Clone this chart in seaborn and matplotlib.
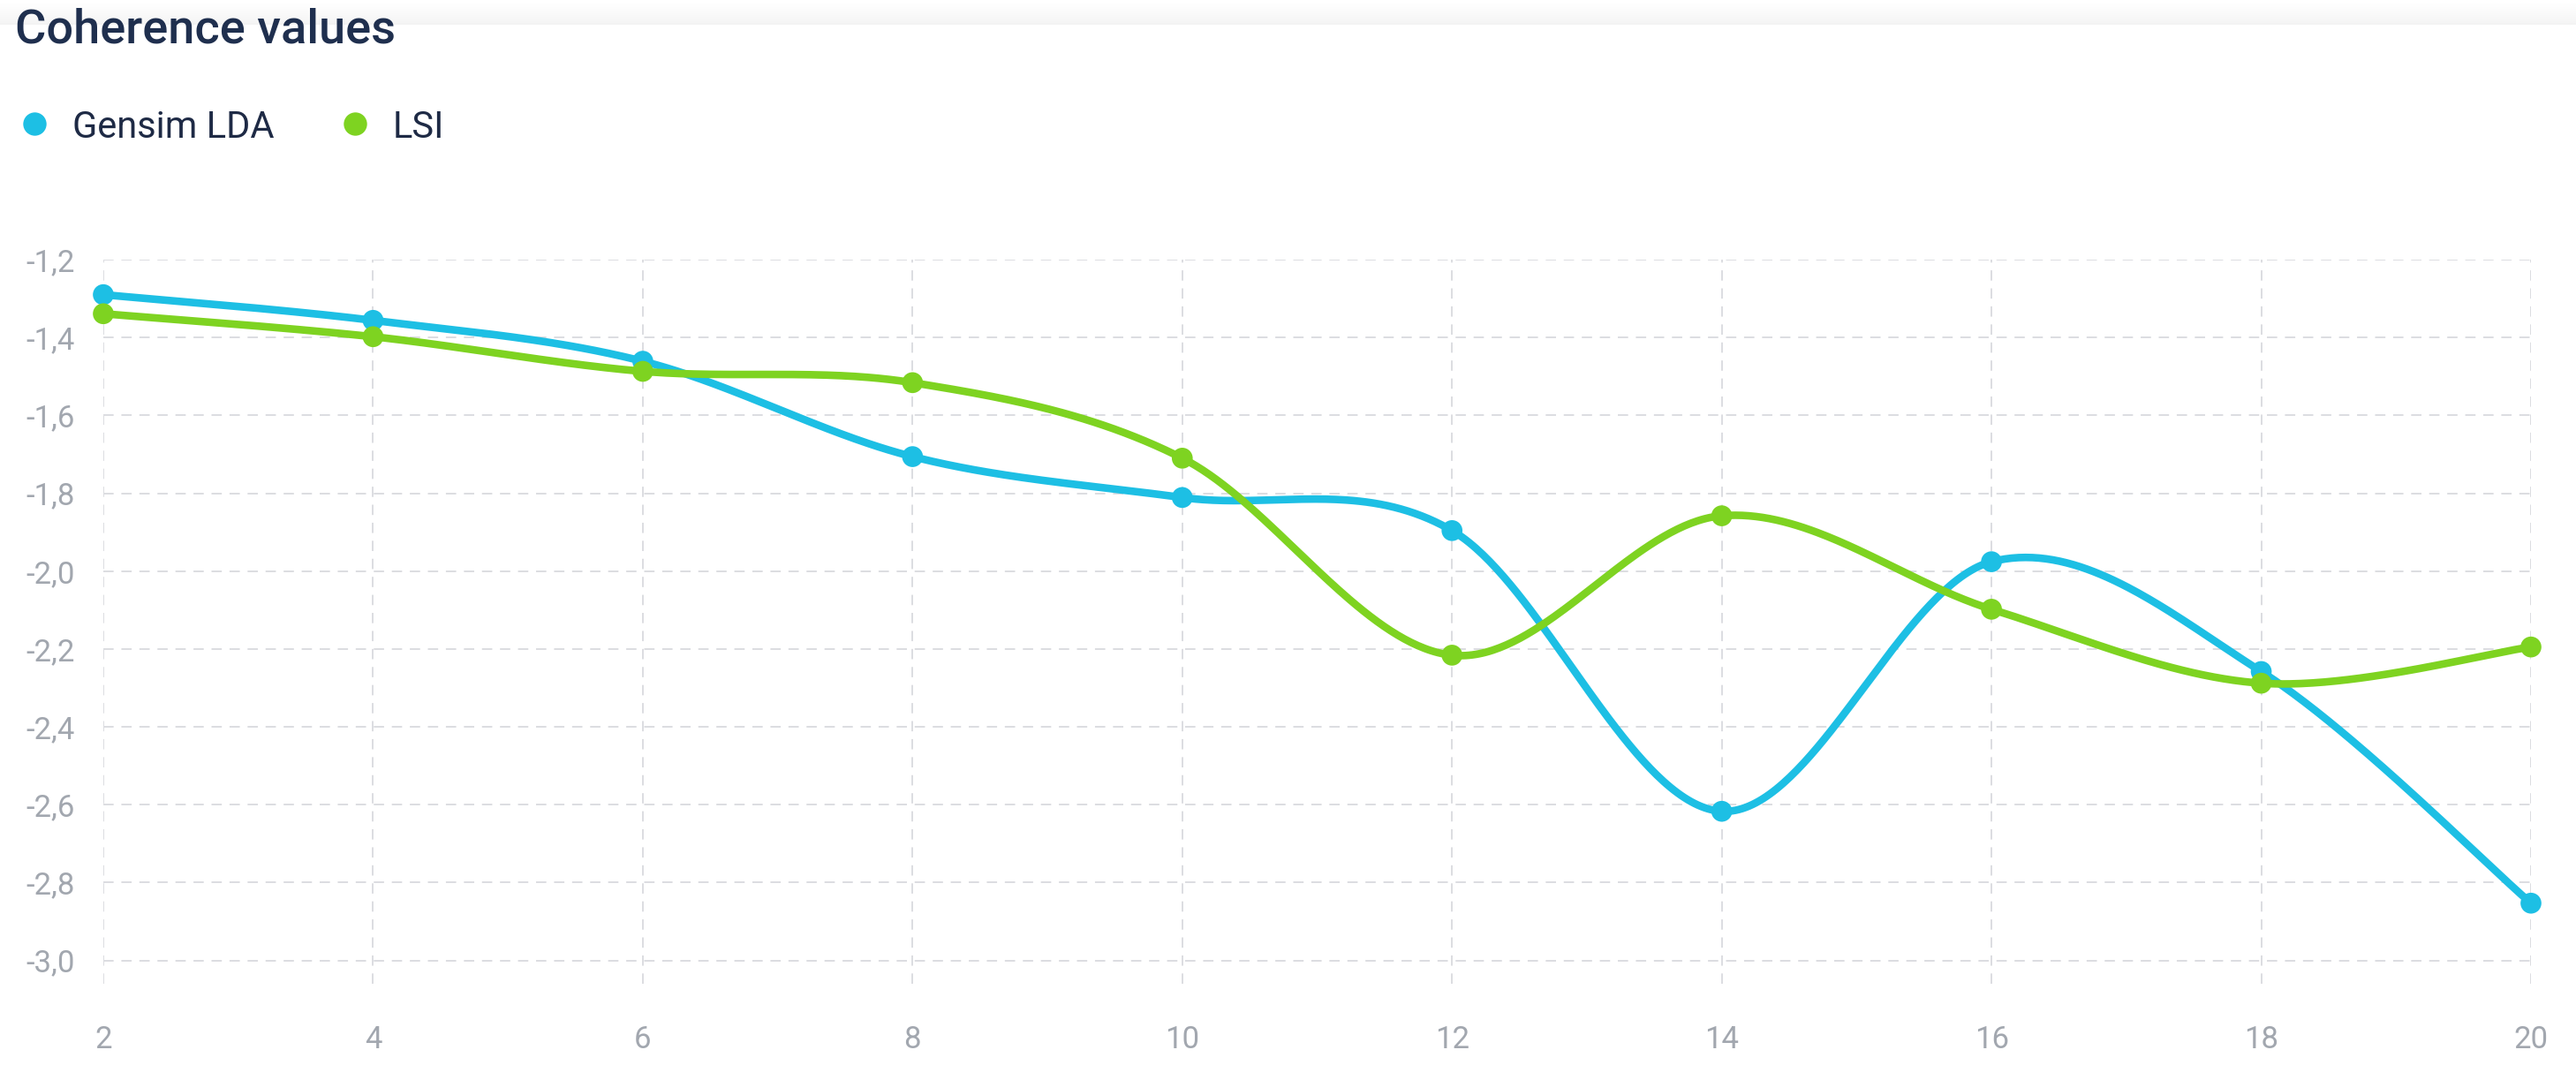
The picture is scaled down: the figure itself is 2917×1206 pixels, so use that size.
import numpy as np
import pandas as pd
import matplotlib
matplotlib.use("Agg")
import matplotlib.pyplot as plt
import seaborn as sns
from matplotlib.lines import Line2D

# ---------------- data ----------------
topics = [2, 4, 6, 8, 10, 12, 14, 16, 18, 20]
lda_values = [-1.29, -1.356, -1.461, -1.706, -1.811, -1.896, -2.617, -1.976, -2.258, -2.853]
lsi_values = [-1.339, -1.398, -1.487, -1.516, -1.710, -2.216, -1.858, -2.098, -2.288, -2.195]
series_names = ["Gensim LDA", "LSI"]
series_colors = ["#1dbfe4", "#7ed321"]
y_ticks = [-1.2, -1.4, -1.6, -1.8, -2.0, -2.2, -2.4, -2.6, -2.8, -3.0]
x_ticks = topics
title_text = "Coherence values"


def smooth_curve(x, y, n=80):
    """Catmull-Rom style cubic bezier through the data points (for drawing)."""
    x = np.asarray(x, float)
    y = np.asarray(y, float)
    px = np.concatenate([[x[0]], x, [x[-1]]])
    py = np.concatenate([[y[0]], y, [y[-1]]])
    t = np.linspace(0, 1, n)
    xs, ys = [], []
    for i in range(len(x) - 1):
        x0, x1, x2, x3 = px[i], px[i + 1], px[i + 2], px[i + 3]
        y0, y1, y2, y3 = py[i], py[i + 1], py[i + 2], py[i + 3]
        cx1, cy1 = x1 + (x2 - x0) / 6, y1 + (y2 - y0) / 6
        cx2, cy2 = x2 - (x3 - x1) / 6, y2 - (y3 - y1) / 6
        b0 = (1 - t) ** 3
        b1 = 3 * (1 - t) ** 2 * t
        b2 = 3 * (1 - t) * t ** 2
        b3 = t ** 3
        xs.append(b0 * x1 + b1 * cx1 + b2 * cx2 + b3 * x2)
        ys.append(b0 * y1 + b1 * cy1 + b2 * cy2 + b3 * y2)
    return np.concatenate(xs), np.concatenate(ys)


sns.set_theme(style="white")
plt.rcParams["font.family"] = ["Roboto", "DejaVu Sans"]

W, H = 2917, 1206
fig = plt.figure(figsize=(W / 100, H / 100), dpi=100)
fig.patch.set_facecolor("white")

# faint shadow band at the very top
grad = np.linspace(0.955, 1.0, 28)[::-1][:, None] * np.ones((1, W))
fig.figimage(grad, xo=0, yo=H - 28, cmap="gray", vmin=0, vmax=1, zorder=0)

ax_left, ax_right = 117 / W, 2866 / W
ax_top, ax_bottom = 1 - 294 / H, 1 - 1114 / H
ax = fig.add_axes([ax_left, ax_bottom, ax_right - ax_left, ax_top - ax_bottom])
ax.set_facecolor("none")

for vals, name, col in zip([lda_values, lsi_values], series_names, series_colors):
    sx, sy = smooth_curve(topics, vals)
    df = pd.DataFrame({"topics": sx, "value": sy})
    sns.lineplot(data=df, x="topics", y="value", sort=False, color=col, lw=6.2,
                 ax=ax, zorder=3, estimator=None)
    sns.scatterplot(x=topics, y=vals, color=col, s=290, edgecolor="none",
                    ax=ax, zorder=4, clip_on=False)

ax.set_xlim(2, 20)
ax.set_ylim(-3.06, -1.2)
ax.set_xticks(x_ticks)
ax.set_xticklabels([str(v) for v in x_ticks])
ax.set_yticks(y_ticks)
ax.set_yticklabels([f"{v:.1f}".replace(".", ",") for v in y_ticks])
ax.set_xlabel("")
ax.set_ylabel("")
ax.grid(True, linestyle=(0, (6, 4.5)), color="#dcdde1", lw=1.4, zorder=0)
for s in ax.spines.values():
    s.set_visible(False)
ax.tick_params(axis="both", length=0, colors="#a2a7af", labelsize=25)
ax.tick_params(axis="y", pad=23)
ax.tick_params(axis="x", pad=34)

# title
fig.text(17 / W, 1 - 34 / H, title_text, fontsize=39, fontweight=500,
         color="#1f2f4e", ha="left", va="center")

# legend (drawn manually in figure pixels)
legend_y = 1 - 140 / H
dot_x = [39 / W, 402 / W]
text_x = [82 / W, 445 / W]
for name, col, dx, tx in zip(series_names, series_colors, dot_x, text_x):
    fig.add_artist(Line2D([dx], [legend_y], marker="o", linestyle="none",
                          markersize=19, markerfacecolor=col,
                          markeredgecolor="none", transform=fig.transFigure))
    fig.text(tx, legend_y, name, fontsize=30, color="#1e2a45",
             ha="left", va="center_baseline")

fig.savefig("out.png", dpi=100, facecolor="white")
